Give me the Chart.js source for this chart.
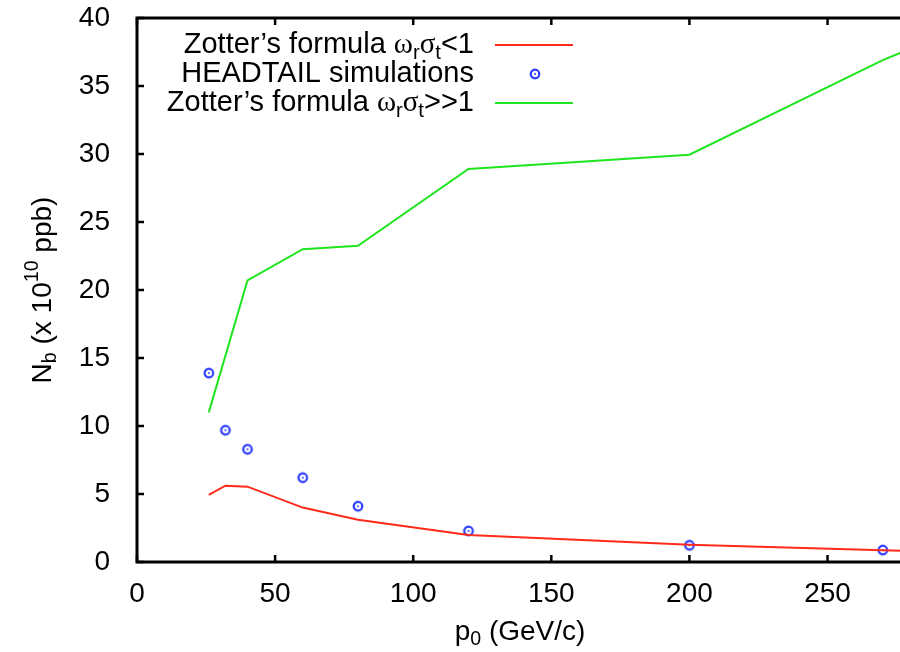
<!DOCTYPE html>
<html>
<head>
<meta charset="utf-8">
<script src="https://cdn.jsdelivr.net/npm/chart.js@4.4.1/dist/chart.umd.min.js"></script>
<style>
  html, body { margin: 0; padding: 0; background: #fff; overflow: hidden; }
  #wrap { width: 900px; height: 652px; overflow: hidden; }
</style>
</head>
<body>
<div id="wrap"><canvas id="chart" width="907" height="652"></canvas></div>
<script>
// data
const lowX = [26, 32, 40, 60, 80, 120, 200, 270, 300];
const zotterLow = [4.93, 5.61, 5.54, 4.0, 3.10, 1.99, 1.27, 0.86, 0.68];
const headtailX = [26, 32, 40, 60, 80, 120, 200, 270];
const headtail = [13.89, 9.69, 8.29, 6.20, 4.10, 2.28, 1.23, 0.88];
const highX = [26, 40, 60, 80, 120, 200, 270, 300];
const zotterHigh = [11.0, 20.7, 23.0, 23.25, 28.9, 29.95, 36.9, 39.4];
const xTicks = [0, 50, 100, 150, 200, 250];
const yTicks = [0, 5, 10, 15, 20, 25, 30, 35, 40];

const RED = '#ff2a1a';
const GREEN = '#1fe51f';
const BLUE = '#2b3cff';
const SANS = '"Liberation Sans", Arial, sans-serif';
const SERIF = '"Liberation Serif", "Times New Roman", serif';

const toXY = (xs, ys) => xs.map((x, i) => ({ x: x, y: ys[i] }));

// ring with a dot in the middle, like gnuplot pt 6
const ring = document.createElement('canvas');
ring.width = 14; ring.height = 14;
(function () {
  const c = ring.getContext('2d');
  c.strokeStyle = BLUE;
  c.lineWidth = 2.2;
  c.beginPath(); c.arc(7, 7, 4.3, 0, Math.PI * 2); c.stroke();
  c.fillStyle = BLUE;
  c.beginPath(); c.arc(7, 7, 1, 0, Math.PI * 2); c.fill();
})();

// text with sub/superscripts
function richWidth(ctx, parts, size) {
  let w = 0;
  parts.forEach(p => {
    const s = p.sub || p.sup ? size * 0.7 : size;
    ctx.font = s + 'px ' + (p.serif ? SERIF : SANS);
    w += ctx.measureText(p.t).width;
  });
  return w;
}
function drawRich(ctx, parts, x, y, size, align) {
  const w = richWidth(ctx, parts, size);
  let cx = align === 'right' ? x - w : align === 'center' ? x - w / 2 : x;
  ctx.textBaseline = 'middle';
  ctx.textAlign = 'left';
  ctx.fillStyle = '#000';
  parts.forEach(p => {
    const s = p.sub || p.sup ? size * 0.7 : size;
    ctx.font = s + 'px ' + (p.serif ? SERIF : SANS);
    let dy = 0;
    if (p.sub) dy = size * 0.28;
    if (p.sup) dy = -size * 0.38;
    ctx.fillText(p.t, cx, y + dy);
    cx += ctx.measureText(p.t).width;
  });
}

const legendRows = [
  { parts: [{ t: 'Zotter\u2019s formula ' }, { t: '\u03c9', serif: true }, { t: 'r', sub: true }, { t: '\u03c3', serif: true }, { t: 't', sub: true }, { t: '<1' }], kind: 'line', color: RED },
  { parts: [{ t: 'HEADTAIL simulations' }], kind: 'point' },
  { parts: [{ t: 'Zotter\u2019s formula ' }, { t: '\u03c9', serif: true }, { t: 'r', sub: true }, { t: '\u03c3', serif: true }, { t: 't', sub: true }, { t: '>>1' }], kind: 'line', color: GREEN }
];

const framePlugin = {
  id: 'frame',
  beforeDatasetsDraw(chart) {
    const { ctx, chartArea: a, scales } = chart;
    ctx.save();
    ctx.strokeStyle = '#000';
    ctx.lineWidth = 3;
    ctx.beginPath();
    ctx.moveTo(a.right + 8, a.top); ctx.lineTo(a.left, a.top);
    ctx.lineTo(a.left, a.bottom); ctx.lineTo(a.right + 8, a.bottom);
    ctx.stroke();
    ctx.lineWidth = 2.5;
    ctx.beginPath();
    xTicks.forEach(v => {
      const px = scales.x.getPixelForValue(v);
      ctx.moveTo(px, a.bottom); ctx.lineTo(px, a.bottom - 7);
      ctx.moveTo(px, a.top); ctx.lineTo(px, a.top + 7);
    });
    yTicks.forEach(v => {
      const py = scales.y.getPixelForValue(v);
      ctx.moveTo(a.left, py); ctx.lineTo(a.left + 7, py);
    });
    ctx.stroke();
    ctx.restore();
  },
  afterDraw(chart) {
    const { ctx, chartArea: a } = chart;
    ctx.save();
    // axis titles
    drawRich(ctx, [{ t: 'p' }, { t: '0', sub: true }, { t: ' (GeV/c)' }], 520, 632, 28, 'center');
    ctx.translate(43, (a.top + a.bottom) / 2);
    ctx.rotate(-Math.PI / 2);
    drawRich(ctx, [{ t: 'N' }, { t: 'b', sub: true }, { t: ' (x 10' }, { t: '10', sup: true }, { t: ' ppb)' }], 0, 0, 28, 'center');
    ctx.restore();

    // legend
    ctx.save();
    legendRows.forEach((row, i) => {
      const y = 45 + i * 29;
      drawRich(ctx, row.parts, 474, y, 29, 'right');
      if (row.kind === 'line') {
        ctx.strokeStyle = row.color;
        ctx.lineWidth = 2;
        ctx.beginPath(); ctx.moveTo(495, y); ctx.lineTo(573, y); ctx.stroke();
      } else {
        ctx.drawImage(ring, 535 - 7, y - 7);
      }
    });
    ctx.restore();
  }
};

new Chart(document.getElementById('chart'), {
  type: 'scatter',
  data: {
    datasets: [
      {
        label: 'Zotter\u2019s formula \u03c9r\u03c3t<1',
        data: toXY(lowX, zotterLow),
        showLine: true,
        borderColor: RED,
        borderWidth: 2,
        pointRadius: 0,
        tension: 0
      },
      {
        label: 'HEADTAIL simulations',
        data: toXY(headtailX, headtail),
        pointStyle: ring,
        pointRadius: 5
      },
      {
        label: 'Zotter\u2019s formula \u03c9r\u03c3t>>1',
        data: toXY(highX, zotterHigh),
        showLine: true,
        borderColor: GREEN,
        borderWidth: 2,
        pointRadius: 0,
        tension: 0
      }
    ]
  },
  options: {
    responsive: false,
    animation: false,
    layout: { padding: { top: 18, right: 0, left: 0, bottom: 0 } },
    plugins: {
      legend: { display: false },
      tooltip: { enabled: false }
    },
    scales: {
      x: {
        type: 'linear',
        min: 0,
        max: 276.6,
        grid: { display: false },
        border: { display: false },
        afterBuildTicks: axis => { axis.ticks = xTicks.map(v => ({ value: v })); },
        afterFit: axis => { axis.height = 90; axis.paddingLeft = 0; axis.paddingRight = 0; },
        ticks: { color: '#000', font: { family: SANS, size: 28 }, padding: 7, maxRotation: 0 }
      },
      y: {
        min: 0,
        max: 40,
        grid: { display: false },
        border: { display: false },
        afterBuildTicks: axis => { axis.ticks = yTicks.map(v => ({ value: v })); },
        afterFit: axis => { axis.width = 137; axis.paddingTop = 0; axis.paddingBottom = 0; },
        ticks: { color: '#000', font: { family: SANS, size: 28 }, padding: 19 }
      }
    }
  },
  plugins: [framePlugin]
});
</script>
</body>
</html>
